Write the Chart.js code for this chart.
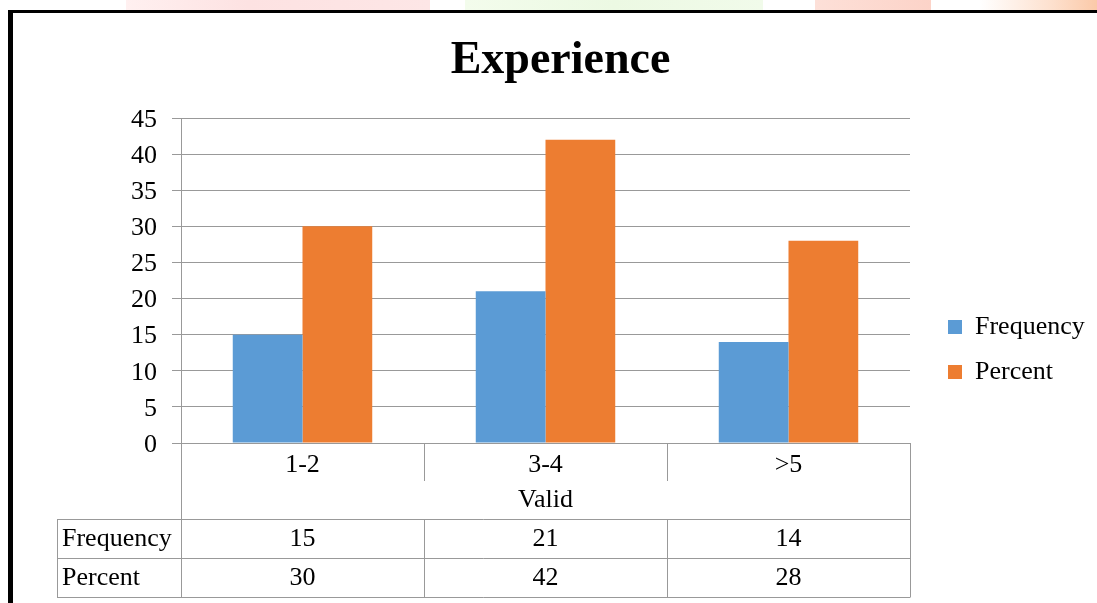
<!DOCTYPE html>
<html>
<head>
<meta charset="utf-8">
<title>Experience</title>
<script src="https://cdn.jsdelivr.net/npm/chart.js@4/dist/chart.umd.min.js"></script>
<style>
  html, body { margin: 0; padding: 0; background: #fff; }
  #wrap { position: relative; width: 1097px; height: 603px; overflow: hidden; background: #fff; }
  #chart { position: absolute; left: 0; top: 0; }
  .frame { position: absolute; background: #000; }
  .strip { position: absolute; top: 0; height: 10px; }
</style>
</head>
<body>
<div id="wrap">
  <div class="strip" style="left:126px;width:304px;background:linear-gradient(90deg,#fff0f0,#fde2e2 40%,#fde6e6);"></div>
  <div class="strip" style="left:465px;width:298px;background:linear-gradient(90deg,#f3fcec,#ecf9e3 50%,#f1fbea);"></div>
  <div class="strip" style="left:815px;width:116px;background:linear-gradient(90deg,#fde0d8,#fcd3c8);"></div>
  <div class="strip" style="left:980px;width:117px;background:linear-gradient(90deg,#fff,#fde1cf 60%,#fbc9a8);"></div>
  <canvas id="chart" width="1097" height="603"></canvas>
  <div class="frame" style="left:8px;top:10px;width:1089px;height:3px;"></div>
  <div class="frame" style="left:8px;top:10px;width:5px;height:593px;"></div>
</div>
<script>
// Experience of respondents: frequency and percent per band
const chartTitle = 'Experience';
const categories = ['1-2', '3-4', '>5'];
const groupLabel = 'Valid';
const seriesNames = ['Frequency', 'Percent'];
const frequency = [15, 21, 14];
const percent = [30, 42, 28];
const yMin = 0;
const yMax = 45;
const yStep = 5;

const serif = '"Liberation Serif", "Times New Roman", serif';
const blue = '#5B9BD5';
const orange = '#ED7D31';
const lineGray = '#999999';
const labelSize = 26;

// room on the right for the legend column (plot ends at x = 910)
const mctx = document.createElement('canvas').getContext('2d');
mctx.font = labelSize + 'px ' + serif;
const legendPad = 19, legendBox = 14;
const widest = Math.max(...seriesNames.map(n => mctx.measureText(n).width));
const legendWidth = legendPad + legendBox + labelSize / 2 + widest + 10;
const rightPad = Math.max(0, 1097 - 910 - legendWidth);

// legend column placement after layout
const placeLegend = {
  id: 'placeLegend',
  afterLayout(chart) {
    const lg = chart.legend;
    if (lg && lg.columnSizes && lg.columnSizes.length) {
      const pad = lg.options.labels.padding;
      const firstTop = 314;
      lg.left = chart.chartArea.right + 38 - pad;
      lg.right = lg.left + lg.width;
      lg.top = firstTop - pad;
      lg.bottom = firstTop + lg.columnSizes[0].height;
    }
  },
  beforeDraw(chart) {
    // title sits slightly right of the canvas centre
    const t = chart.titleBlock;
    if (t) { t.left = 12; t.right = chart.width + 12; }
  }
};

// data table under the category axis
const dataTable = {
  id: 'dataTable',
  afterDraw(chart) {
    const ctx = chart.ctx;
    const xs = chart.scales.x;
    const area = chart.chartArea;
    const n = categories.length;
    const step = (xs.right - xs.left) / n;
    const base = area.bottom;           // zero line
    const tableTop = base + 76;
    const rowH = 39;
    const labelLeft = 57;
    const rows = [
      { name: seriesNames[0], values: frequency },
      { name: seriesNames[1], values: percent }
    ];
    const crisp = v => Math.round(v) + 0.5;

    ctx.save();
    ctx.strokeStyle = lineGray;
    ctx.lineWidth = 1;
    ctx.beginPath();
    // outer verticals of the axis block
    ctx.moveTo(crisp(xs.left), base); ctx.lineTo(crisp(xs.left), tableTop + rowH * rows.length);
    ctx.moveTo(crisp(xs.right), base); ctx.lineTo(crisp(xs.right), tableTop + rowH * rows.length);
    // inner separators in the table rows
    for (let i = 1; i < n; i++) {
      const x = crisp(xs.left + step * i);
      ctx.moveTo(x, tableTop); ctx.lineTo(x, tableTop + rowH * rows.length);
    }
    // row lines
    for (let r = 0; r <= rows.length; r++) {
      const y = crisp(tableTop + rowH * r);
      ctx.moveTo(labelLeft, y); ctx.lineTo(xs.right + 0.5, y);
    }
    ctx.moveTo(crisp(labelLeft), tableTop); ctx.lineTo(crisp(labelLeft), tableTop + rowH * rows.length);
    ctx.stroke();

    ctx.fillStyle = '#000';
    ctx.font = labelSize + 'px ' + serif;
    ctx.textBaseline = 'middle';
    ctx.textAlign = 'center';
    ctx.fillText(groupLabel, (xs.left + xs.right) / 2, base + 57);
    rows.forEach((row, r) => {
      const cy = tableTop + rowH * r + rowH / 2 + 1;
      ctx.textAlign = 'left';
      ctx.fillText(row.name, labelLeft + 5, cy);
      ctx.textAlign = 'center';
      row.values.forEach((v, i) => {
        ctx.fillText(String(v), xs.getPixelForValue(i), cy);
      });
    });
    ctx.restore();
  }
};

new Chart(document.getElementById('chart'), {
  type: 'bar',
  data: {
    labels: categories,
    datasets: [
      { label: seriesNames[0], data: frequency, backgroundColor: blue, borderWidth: 0 },
      { label: seriesNames[1], data: percent, backgroundColor: orange, borderWidth: 0 }
    ]
  },
  options: {
    responsive: false,
    animation: false,
    events: [],
    layout: { padding: { left: 0, right: rightPad, top: 0, bottom: 0 } },
    datasets: { bar: { categoryPercentage: 0.574, barPercentage: 1.0 } },
    plugins: {
      title: {
        display: true,
        text: chartTitle,
        color: '#000',
        font: { family: serif, size: 46, weight: 'bold', lineHeight: 1.2 },
        padding: { top: 33.9, bottom: 28.9 }
      },
      legend: {
        display: true,
        position: 'right',
        align: 'center',
        labels: {
          color: '#000',
          font: { family: serif, size: labelSize },
          boxWidth: legendBox,
          boxHeight: legendBox,
          padding: legendPad
        }
      },
      tooltip: { enabled: false }
    },
    scales: {
      x: {
        offset: true,
        grid: {
          display: true,
          offset: true,
          drawOnChartArea: false,
          drawTicks: true,
          tickLength: 38,
          color: lineGray,
          lineWidth: 1
        },
        border: { display: true, color: lineGray, width: 1 },
        ticks: {
          color: '#000',
          font: { family: serif, size: labelSize },
          padding: -31.6,
          autoSkip: false,
          maxRotation: 0
        },
        afterFit(scale) { scale.height = 160; }
      },
      y: {
        min: yMin,
        max: yMax,
        grid: { color: lineGray, lineWidth: 1, drawTicks: true, tickLength: 9 },
        border: { display: true, color: lineGray, width: 1 },
        ticks: {
          stepSize: yStep,
          color: '#000',
          font: { family: serif, size: labelSize },
          padding: 15,
          labelOffset: 2
        },
        afterFit(scale) { scale.width = 181; }
      }
    }
  },
  plugins: [placeLegend, dataTable]
});
</script>
</body>
</html>
